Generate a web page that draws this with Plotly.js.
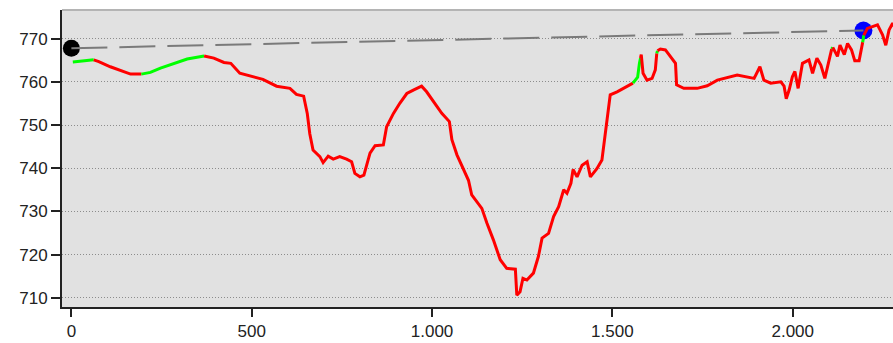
<!DOCTYPE html>
<html>
<head>
<meta charset="utf-8">
<script src="https://cdn.plot.ly/plotly-3.0.1.min.js"></script>
<style>html,body{margin:0;padding:0;background:#fff;}#chart{width:893px;height:343px;}</style>
</head>
<body>
<div id="chart"></div>
<script>
// Distance along the route (m)
const distance = [4, 62, 76, 108, 145, 164, 194, 219, 247, 284, 321, 368, 395, 423, 442, 467, 494, 531, 569, 606, 624, 644, 654, 661, 670, 689, 698, 712, 726, 744, 763, 777, 786, 800, 811, 819, 828, 842, 865, 874, 893, 911, 930, 948, 971, 985, 1008, 1027, 1048, 1055, 1069, 1087, 1101, 1110, 1138, 1152, 1170, 1189, 1207, 1231, 1235, 1244, 1252, 1263, 1281, 1295, 1305, 1323, 1337, 1351, 1365, 1374, 1385, 1391, 1402, 1416, 1430, 1439, 1457, 1471, 1478, 1485, 1494, 1513, 1531, 1550, 1557, 1570, 1575, 1578, 1580, 1585, 1596, 1610, 1619, 1623, 1625, 1633, 1647, 1661, 1675, 1678, 1698, 1735, 1763, 1791, 1819, 1846, 1893, 1909, 1920, 1939, 1967, 1976, 1982, 1990, 1999, 2006, 2015, 2027, 2045, 2055, 2067, 2078, 2089, 2101, 2108, 2111, 2124, 2131, 2143, 2152, 2163, 2172, 2184, 2194, 2197, 2207, 2235, 2249, 2258, 2267, 2277, 2290];
// Elevation (m)
const elevation = [764.6, 765.1, 764.7, 763.5, 762.4, 761.8, 761.8, 762.2, 763.2, 764.3, 765.3, 766.0, 765.5, 764.5, 764.3, 762.0, 761.4, 760.6, 759.0, 758.5, 757.1, 756.7, 752.7, 748.0, 744.2, 742.7, 741.3, 742.8, 742.1, 742.7, 742.1, 741.5, 738.8, 738.0, 738.4, 741.1, 743.5, 745.2, 745.4, 749.6, 752.7, 755.1, 757.3, 758.1, 759.0, 757.7, 755.1, 752.7, 750.8, 746.6, 743.1, 739.9, 737.2, 733.8, 730.7, 727.3, 723.4, 718.8, 716.8, 716.6, 710.6, 711.4, 714.5, 714.1, 715.7, 719.6, 723.8, 724.9, 728.8, 731.1, 735.0, 734.2, 736.5, 739.7, 738.0, 740.7, 741.5, 738.0, 739.9, 741.9, 746.6, 751.9, 757.0, 757.7, 758.5, 759.5, 759.7, 761.1, 764.3, 765.5, 766.3, 762.0, 760.4, 760.8, 762.8, 766.6, 767.2, 767.6, 767.4, 765.9, 764.3, 759.3, 758.5, 758.5, 759.1, 760.4, 761.1, 761.6, 760.8, 763.5, 760.4, 759.7, 760.0, 759.0, 756.1, 758.1, 761.2, 762.4, 758.5, 764.3, 765.1, 762.0, 765.5, 763.9, 760.8, 764.7, 767.6, 768.0, 765.9, 768.5, 766.3, 768.9, 767.4, 764.9, 764.9, 769.2, 770.8, 772.4, 773.2, 770.9, 768.5, 772.0, 773.6, 771.5];
// Stretches drawn in green [from, to] (m); everything else is red
const greenStretches = [[4, 62], [194, 368], [1557, 1578], [1623, 1625], [2108, 2111], [2194, 2197]];
// Start and end markers [distance, elevation]
const startPoint = [0, 767.8];
const endPoint = [2196, 771.9];
// Axis ticks
const xTickVals = [0, 500, 1000, 1500, 2000];
const xTickText = ["0", "500", "1.000", "1.500", "2.000"];
const yTickVals = [710, 720, 730, 740, 750, 760, 770];

const n = distance.length;
const segClass = [];
for (let k = 0; k < n - 1; k++) {
  const a = distance[k], b = distance[k + 1];
  segClass.push(greenStretches.some(s => a >= s[0] && b <= s[1]) ? "G" : "R");
}
const colorMap = {G: "#00ff00", R: "#ff0000"};
const traces = [];
traces.push({x: [startPoint[0]], y: [startPoint[1]], mode: "markers", marker: {color: "#000000", size: 17}, hoverinfo: "skip"});
traces.push({x: [endPoint[0]], y: [endPoint[1]], mode: "markers", marker: {color: "#0000ff", size: 18}, hoverinfo: "skip"});

let i = 0;
while (i < n - 1) {
  const c = segClass[i];
  let j = i;
  while (j < n - 1 && segClass[j] === c) j++;
  traces.push({
    x: distance.slice(i, j + 1),
    y: elevation.slice(i, j + 1),
    mode: "lines",
    line: {color: colorMap[c], width: 3, shape: "linear"},
    hoverinfo: "skip"
  });
  i = j;
}
traces.push({x: [startPoint[0], endPoint[0]], y: [startPoint[1], endPoint[1]], mode: "lines",
  line: {color: "#7a7a7a", width: 2, dash: "36px,12px"}, hoverinfo: "skip"});

const font = {family: "Liberation Sans, Arial, sans-serif", size: 17, color: "#222"};
const layout = {
  width: 893, height: 343,
  margin: {l: 62, r: 0, t: 10, b: 36, pad: 0},
  paper_bgcolor: "#ffffff",
  plot_bgcolor: "#e1e1e1",
  showlegend: false,
  font: font,
  xaxis: {
    range: [-26, 2278],
    tickvals: xTickVals, ticktext: xTickText,
    ticks: "outside", ticklen: 8, tickwidth: 2, tickcolor: "#222",
    showline: true, linecolor: "#222", linewidth: 2,
    showgrid: false, zeroline: false, tickfont: font
  },
  yaxis: {
    range: [707.85, 776.65],
    tickvals: yTickVals,
    ticks: "outside", ticklen: 9, tickwidth: 2, tickcolor: "#222",
    showline: true, linecolor: "#222", linewidth: 2,
    showgrid: true, gridcolor: "#8c8c8c", gridwidth: 1, griddash: "1px,2px",
    zeroline: false, tickfont: font
  },
  shapes: [{type: "line", xref: "paper", yref: "paper", x0: 0, x1: 1, y0: 1, y1: 1,
    line: {color: "#b4b4b4", width: 2}}]
};
Plotly.newPlot("chart", traces, layout, {displayModeBar: false, staticPlot: true});
</script>
</body>
</html>
